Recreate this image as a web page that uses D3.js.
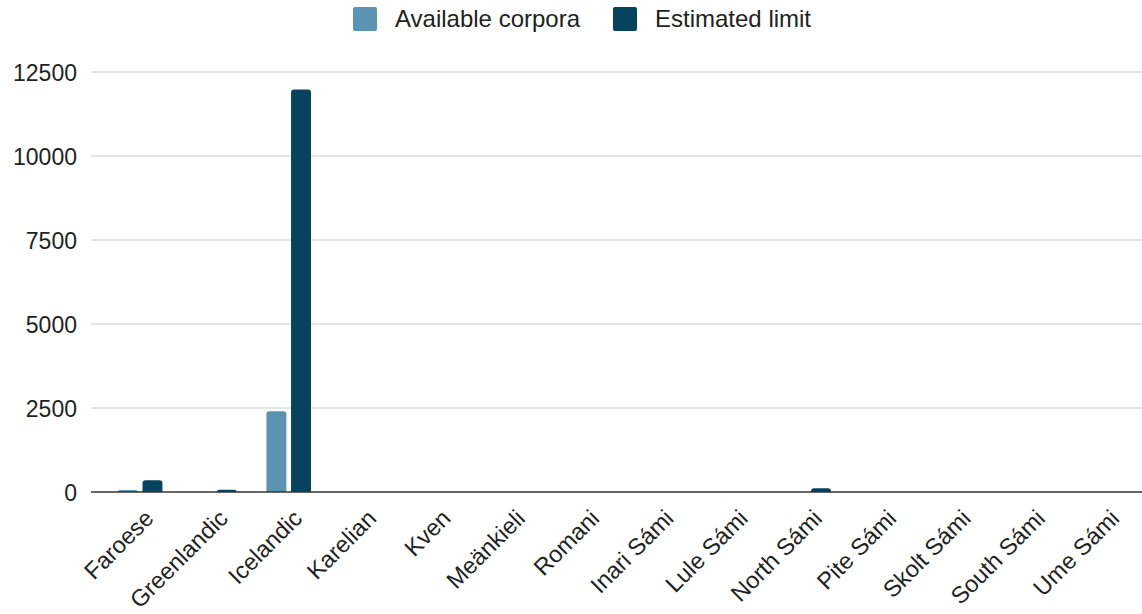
<!DOCTYPE html>
<html>
<head>
<meta charset="utf-8">
<script src="https://cdn.jsdelivr.net/npm/d3@7"></script>
<style>
  html, body { margin: 0; padding: 0; background: #fff; }
  svg { display: block; font-family: "Liberation Sans", Arial, sans-serif; }
</style>
</head>
<body>
<svg id="chart" width="1142" height="614"></svg>
<script>
// Corpus sizes per language
const languages = ["Faroese", "Greenlandic", "Icelandic", "Karelian", "Kven", "Meänkieli",
  "Romani", "Inari Sámi", "Lule Sámi", "North Sámi", "Pite Sámi", "Skolt Sámi", "South Sámi", "Ume Sámi"];
const availableCorpora = [60, 0, 2400, 0, 0, 0, 0, 0, 0, 0, 0, 0, 0, 0];
const estimatedLimit   = [350, 70, 11980, 0, 0, 0, 0, 0, 0, 110, 0, 0, 0, 0];
const seriesNames = ["Available corpora", "Estimated limit"];
const yTicks = [0, 2500, 5000, 7500, 10000, 12500];

const colors = ["#5b94b2", "#07435f"];
const textColor = "#222";

const svg = d3.select("#chart");
const gridLeft = 91, plotRight = 1142;
const bandLeft = 103, plotTop = 72, plotBottom = 492;

const y = d3.scaleLinear().domain([0, 12500]).range([plotBottom, plotTop]);
const x = d3.scaleBand().domain(languages).range([bandLeft, plotRight + 1]).paddingInner(0.4).paddingOuter(0.2);
const xs = d3.scaleBand().domain(seriesNames).range([0, x.bandwidth()]).paddingInner(0.19);

// Gridlines
svg.append("g").selectAll("line").data(yTicks.filter(d => d > 0)).join("line")
  .attr("x1", gridLeft).attr("x2", plotRight)
  .attr("y1", d => y(d)).attr("y2", d => y(d))
  .attr("stroke", "#cccccc").attr("stroke-width", 1);

// Y axis labels
const yAxis = svg.append("g").attr("transform", `translate(${gridLeft - 14},0)`)
  .call(d3.axisLeft(y).tickValues(yTicks).tickSize(0).tickPadding(0).tickFormat(d3.format("d")));
yAxis.select(".domain").remove();
yAxis.selectAll("text").attr("fill", textColor).style("font-size", "23px")
  .style("font-family", "'Liberation Sans', Arial, sans-serif").attr("dy", "0.35em");

// Bars with rounded tops
const series = [availableCorpora, estimatedLimit];
function roundedTop(x0, y0, w, h, r) {
  r = Math.min(r, h, w / 2);
  return `M${x0},${y0 + h}V${y0 + r}Q${x0},${y0} ${x0 + r},${y0}H${x0 + w - r}Q${x0 + w},${y0} ${x0 + w},${y0 + r}V${y0 + h}Z`;
}
series.forEach((vals, si) => {
  svg.append("g").selectAll("path").data(languages.map((l, i) => ({ l, v: vals[i] })).filter(d => d.v > 0))
    .join("path")
    .attr("fill", colors[si])
    .attr("d", d => {
      const x0 = x(d.l) + xs(seriesNames[si]);
      const top = y(d.v);
      return roundedTop(x0, top, xs.bandwidth(), plotBottom - top, 3);
    });
});

// Baseline
svg.append("line").attr("x1", gridLeft).attr("x2", plotRight)
  .attr("y1", plotBottom).attr("y2", plotBottom)
  .attr("stroke", "#333").attr("stroke-width", 1.5);

// X labels, rotated
svg.append("g").selectAll("text").data(languages).join("text")
  .attr("transform", d => `translate(${x(d) + x.bandwidth() / 2 + 9},${plotBottom + 22}) rotate(-45)`)
  .attr("text-anchor", "end")
  .attr("dy", "0.35em")
  .attr("fill", textColor)
  .style("font-size", "23.5px")
  .text(d => d);

// Legend
const legend = svg.append("g");
const legendItems = [{ name: seriesNames[0], x: 353 }, { name: seriesNames[1], x: 613 }];
legendItems.forEach((it, i) => {
  legend.append("rect").attr("x", it.x).attr("y", 7).attr("width", 24).attr("height", 24)
    .attr("rx", 2).attr("fill", colors[i]);
  legend.append("text").attr("x", it.x + 42).attr("y", 27).attr("fill", textColor)
    .style("font-size", "24px").text(it.name);
});
</script>
</body>
</html>
